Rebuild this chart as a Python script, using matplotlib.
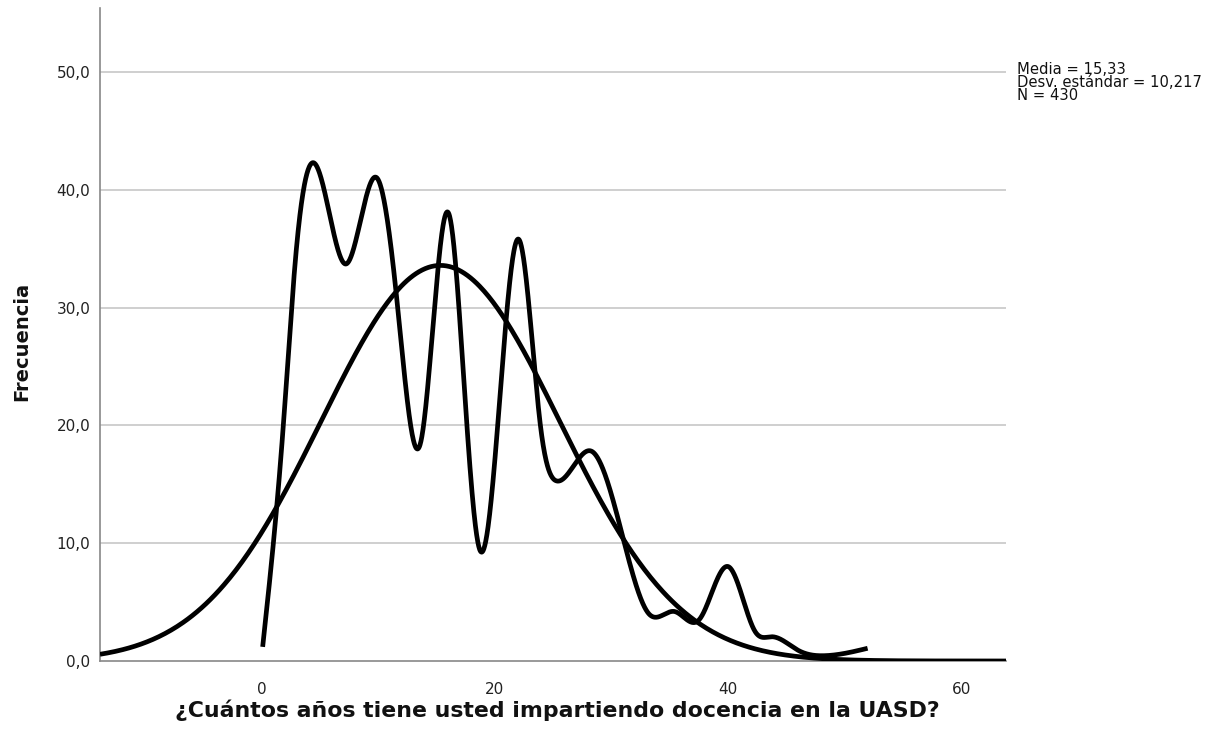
import numpy as np
import matplotlib
matplotlib.use("Agg")
import matplotlib.pyplot as plt

# ---- data ----
# smoothed frequency curve (knots)
curve_x = [0.1, 1.87, 2.9, 4.44, 7.24, 9.9, 11.67, 13.6, 16.04, 17.35, 18.72,
           20.24, 22.04, 23.9, 25.24, 28.3, 31.1, 33.2, 35.4, 37.5, 40.03,
           42.3, 43.7, 46.0, 48.2, 51.94]
curve_y = [1.2, 20.0, 34.0, 42.3, 33.7, 41.0, 30.0, 18.4, 38.0, 23.7, 9.4,
           20.0, 35.8, 20.0, 15.3, 17.8, 10.0, 4.0, 4.2, 3.5, 8.0,
           2.5, 2.06, 0.9, 0.45, 1.08]

media = 15.33
desv = 10.217
n_obs = 430
bin_width = 2.0

y_ticks = [0, 10, 20, 30, 40, 50]
y_tick_labels = ["0,0", "10,0", "20,0", "30,0", "40,0", "50,0"]
x_ticks = [0, 20, 40, 60]
x_tick_labels = ["0", "20", "40", "60"]
stats_text = "Media = 15,33\nDesv. estándar = 10,217\nN = 430"
x_label = "¿Cuántos años tiene usted impartiendo docencia en la UASD?"
y_label = "Frecuencia"


def natural_spline(x, y, xs):
    x = np.asarray(x, float)
    y = np.asarray(y, float)
    n = len(x)
    h = np.diff(x)
    A = np.zeros((n, n))
    b = np.zeros(n)
    A[0, 0] = 1.0
    A[-1, -1] = 1.0
    for i in range(1, n - 1):
        A[i, i - 1] = h[i - 1]
        A[i, i] = 2 * (h[i - 1] + h[i])
        A[i, i + 1] = h[i]
        b[i] = 6 * ((y[i + 1] - y[i]) / h[i] - (y[i] - y[i - 1]) / h[i - 1])
    M = np.linalg.solve(A, b)
    idx = np.clip(np.searchsorted(x, xs) - 1, 0, n - 2)
    x0, x1 = x[idx], x[idx + 1]
    hh = h[idx]
    a = (x1 - xs) / hh
    c = (xs - x0) / hh
    return (a * y[idx] + c * y[idx + 1]
            + ((a**3 - a) * M[idx] + (c**3 - c) * M[idx + 1]) * hh**2 / 6)


fig = plt.figure(figsize=(12.12, 7.42), dpi=100)
ax = fig.add_axes([100 / 1212, 1 - 661 / 742, 906 / 1212, 653 / 742])

xmin, xmax = -13.84, 63.8
ax.set_xlim(xmin, xmax)
ax.set_ylim(0, 55.43)

for yv in y_ticks[1:]:
    ax.axhline(yv, color="#cccccc", lw=1.3, zorder=1)

# normal curve
xs_n = np.linspace(xmin, xmax, 600)
ys_n = n_obs * bin_width / (desv * np.sqrt(2 * np.pi)) * np.exp(-0.5 * ((xs_n - media) / desv) ** 2)
ax.plot(xs_n, ys_n, color="black", lw=3.4, zorder=3, solid_capstyle="butt")

# smoothed frequency curve
xs_c = np.linspace(curve_x[0], curve_x[-1], 2000)
ax.plot(xs_c, natural_spline(curve_x, curve_y, xs_c), color="black", lw=3.4, zorder=3,
        solid_capstyle="butt")

for side in ["top", "right"]:
    ax.spines[side].set_visible(False)
ax.spines["left"].set_color("#888888")
ax.spines["bottom"].set_color("#888888")
ax.spines["left"].set_linewidth(1.2)
ax.spines["bottom"].set_linewidth(1.2)

ax.set_yticks(y_ticks)
ax.set_yticklabels(y_tick_labels)
ax.set_xticks(x_ticks)
ax.set_xticklabels(x_tick_labels)
ax.tick_params(axis="both", length=0, labelsize=11, colors="#222222")
ax.tick_params(axis="y", pad=7)
ax.tick_params(axis="x", pad=15)

fig.text(557 / 1212, 1 - 710 / 742, x_label, fontsize=15.8, fontweight="bold",
         ha="center", va="center", color="#111111")
fig.text(22 / 1212, 1 - 341 / 742, y_label, fontsize=14, fontweight="bold",
         ha="center", va="center", rotation=90, color="#111111")

fig.text(1017 / 1212, 1 - 62 / 742, stats_text, fontsize=10.6, va="top", ha="left",
         linespacing=0.85, color="#111111")

fig.savefig("out.png", dpi=100)
